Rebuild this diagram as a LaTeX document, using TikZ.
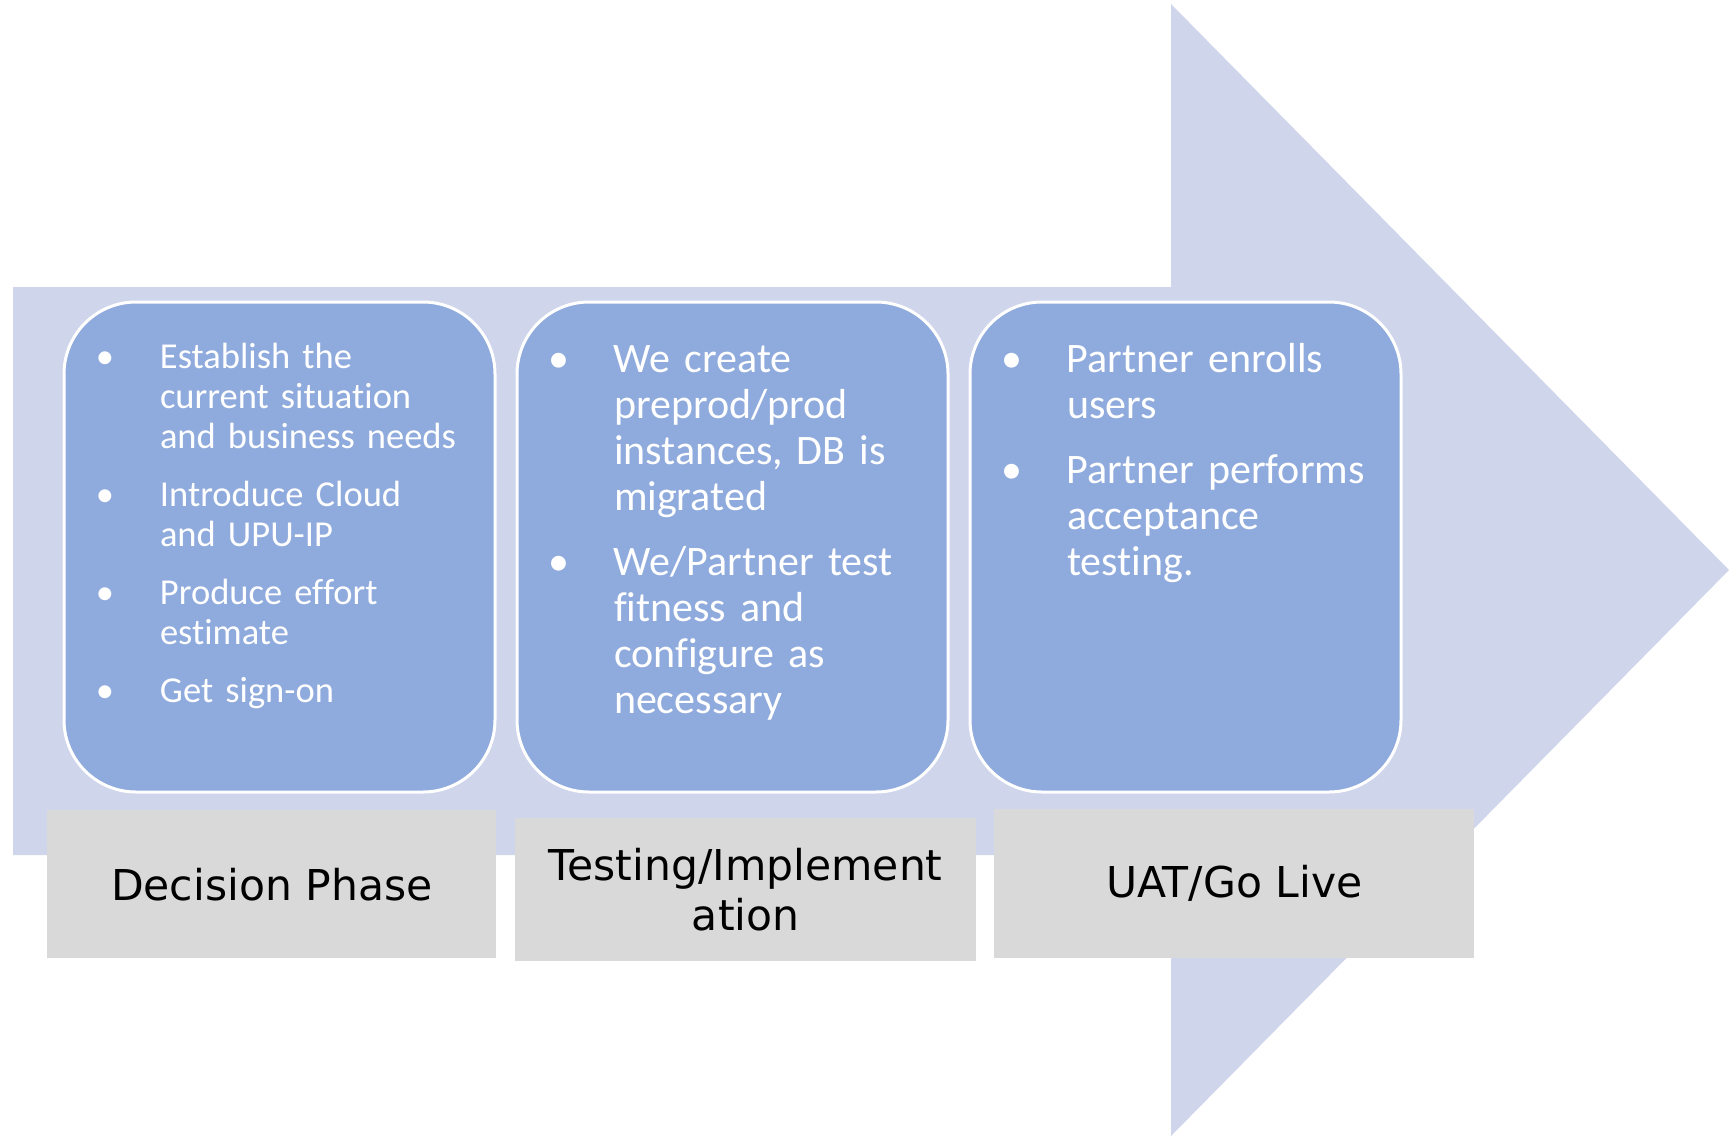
\documentclass[tikz,border=0pt]{standalone}
\usepackage{fontspec}
\setmainfont{Carlito}[Ligatures=NoCommon]
\newfontfamily\phasefont{DejaVu Sans}
\usetikzlibrary{positioning}
\definecolor{arrowblue}{HTML}{CFD5EA}
\definecolor{boxblue}{HTML}{8FAADC}
\definecolor{taggrey}{HTML}{D9D9D9}
\newcommand{\bulletline}[1]{\par\noindent\makebox[55pt][l]{\makebox[0pt]{\textbullet}}\begin{tabular}[t]{@{}l@{}}#1\end{tabular}\par}
\newcommand{\itemgap}{\vspace{18.5pt}}

\begin{document}
\begin{tikzpicture}[x=1pt,y=-1pt]
\tikzstyle{phase} = [draw=white,line width=3pt,fill=boxblue,rounded corners=72pt,minimum width=431pt,minimum height=490pt,inner sep=0pt,outer sep=0pt]
\tikzstyle{items} = [anchor=north west,inner sep=0pt,outer sep=0pt,text=white,align=left,text width=380pt]
\tikzstyle{small} = [font=\fontsize{36.5}{39.8}\selectfont]
\tikzstyle{large} = [font=\fontsize{42}{46}\selectfont]
\tikzstyle{stage} = [fill=taggrey,anchor=north west,inner sep=0pt,align=center,font=\phasefont\fontsize{42.5}{50}\selectfont]
\useasboundingbox (0,0) rectangle (1729,1135);

\fill[arrowblue] (13,287) -- (1171,287) -- (1171,4) -- (1729,570) -- (1171,1136) -- (1171,855) -- (13,855) -- cycle;

\node[phase,anchor=north west] (box1) at (64,302) {};
\node[phase,right=22pt of box1] (box2) {};
\node[phase,right=22pt of box2] (box3) {};

\node[items,small,below right=27pt and 41pt of box1.north west] (list1) {\lineskip=0pt
\bulletline{Establish the\\current situation\\and business needs}\itemgap
\bulletline{Introduce Cloud\\and UPU-IP}\itemgap
\bulletline{Produce effort\\estimate}\itemgap
\bulletline{Get sign-on}};
\node[items,large,below right=24.5pt and 42pt of box2.north west] (list2) {\lineskip=0pt
\bulletline{We create\\preprod/prod\\instances, DB is\\migrated}\itemgap
\bulletline{We/Partner test\\fitness and\\configure as\\necessary}};
\node[items,large,below right=24.5pt and 42pt of box3.north west] (list3) {\lineskip=0pt
\bulletline{Partner enrolls\\users}\itemgap
\bulletline{Partner performs\\acceptance\\testing.}};

\node[stage,minimum width=449pt,minimum height=148pt] (decision) at (47,810) {Decision Phase};
\node[stage,minimum width=461pt,minimum height=143pt] (testing) at (515,817.5) {Testing/Implement\\ation};
\node[stage,minimum width=480pt,minimum height=149pt] (golive) at (994,809) {\raisebox{-3pt}{UAT/Go Live}};
\end{tikzpicture}
\end{document}
